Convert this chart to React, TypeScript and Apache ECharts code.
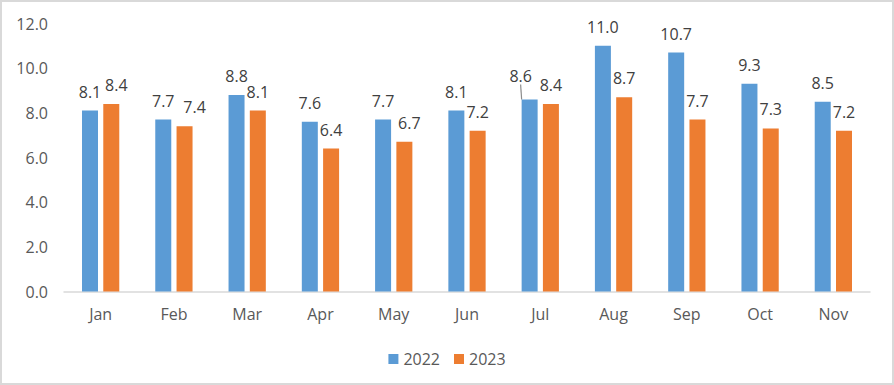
import React, { useEffect, useRef } from "react";
import * as echarts from "echarts";

const months = ["Jan", "Feb", "Mar", "Apr", "May", "Jun", "Jul", "Aug", "Sep", "Oct", "Nov"];
const series2022 = [8.1, 7.7, 8.8, 7.6, 7.7, 8.1, 8.6, 11.0, 10.7, 9.3, 8.5];
const series2023 = [8.4, 7.4, 8.1, 6.4, 6.7, 7.2, 8.4, 8.7, 7.7, 7.3, 7.2];
const seriesNames = ["2022", "2023"];
const yMin = 0;
const yMax = 12;
const yInterval = 2;

// label nudges (styling only)
const labelShift2023: Record<number, number> = { 0: 5, 1: 10, 4: 5 };
const leaderIndex2022 = 6;

const FONT = "'Open Sans', 'Noto Sans', sans-serif";

export default function App() {
  const ref = useRef<HTMLDivElement>(null);

  useEffect(() => {
    document.body.style.margin = "0";
    if (!ref.current) return;
    const chart = echarts.init(ref.current, null, { renderer: "svg" });

    const labelBase = {
      show: true,
      position: "top" as const,
      distance: 11,
      color: "#404040",
      fontSize: 16,
      fontFamily: FONT,
      formatter: (p: any) => Number(p.value).toFixed(1),
    };

    chart.setOption({
      animation: false,
      backgroundColor: "transparent",
      grid: {
        left: 64,
        right: 24,
        top: 23.5,
        bottom: 93.5,
        containLabel: false,
        outerBoundsMode: "none",
      },
      legend: {
        data: seriesNames,
        top: 346,
        left: "center",
        itemWidth: 10,
        itemHeight: 10,
        itemGap: 14,
        icon: "rect",
        textStyle: { color: "#595959", fontSize: 16, fontFamily: FONT, padding: [0, 0, 0, 0] },
      },
      xAxis: {
        type: "category",
        data: months,
        axisLine: { show: true, lineStyle: { color: "#d9d9d9", width: 1.5 } },
        axisTick: { show: false },
        axisLabel: { color: "#595959", fontSize: 16, fontFamily: FONT, margin: 14 },
      },
      yAxis: {
        type: "value",
        min: yMin,
        max: yMax,
        interval: yInterval,
        axisLine: { show: false },
        axisTick: { show: false },
        splitLine: { show: false },
        axisLabel: {
          color: "#595959",
          fontSize: 16,
          fontFamily: FONT,
          margin: 16,
          formatter: (v: number) => v.toFixed(1),
        },
      },
      series: [
        {
          name: seriesNames[0],
          type: "bar",
          barWidth: 16,
          barGap: "33%",
          itemStyle: { color: "#5B9BD5" },
          label: labelBase,
          labelLine: { show: false },
          labelLayout: (params: any) =>
            params.dataIndex === leaderIndex2022 ? { dx: -9, dy: -4 } : {},
          data: series2022.map((v, i) =>
            i === leaderIndex2022
              ? { value: v, labelLine: { show: true, lineStyle: { color: "#8c8c8c", width: 1.2 } } }
              : { value: v }
          ),
        },
        {
          name: seriesNames[1],
          type: "bar",
          barWidth: 16,
          barGap: "33%",
          itemStyle: { color: "#ED7D31" },
          label: labelBase,
          data: series2023.map((v, i) =>
            labelShift2023[i] !== undefined
              ? { value: v, label: { offset: [labelShift2023[i], 0] } }
              : { value: v }
          ),
        },
      ],
    });

    return () => chart.dispose();
  }, []);

  return (
    <div
      style={{
        width: 894,
        height: 385,
        boxSizing: "border-box",
        border: "2px solid #d9d9d9",
        background: "#fff",
        position: "relative",
      }}
    >
      <div ref={ref} style={{ position: "absolute", left: -2, top: -2, width: 894, height: 385 }} />
    </div>
  );
}
